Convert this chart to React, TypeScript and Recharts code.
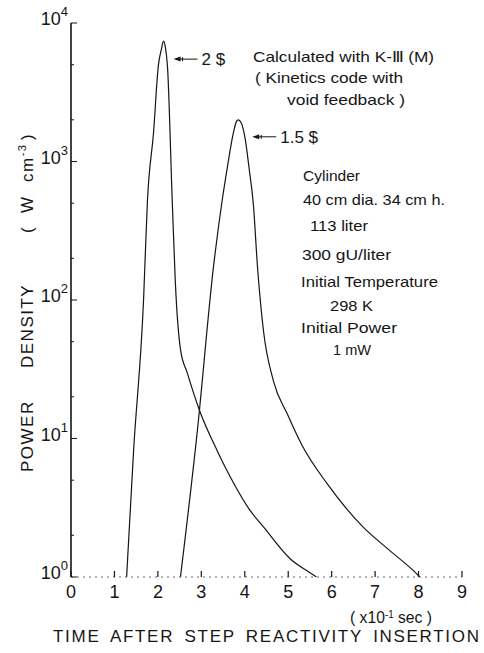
import { Line, LineChart, ReferenceDot, XAxis, YAxis } from 'recharts'

const FONT = "'Liberation Sans', Arial, Helvetica, sans-serif"
const INK = '#151515'

// time axis, x10^-1 sec
const xTicks = [0, 1, 2, 3, 4, 5, 6, 7, 8, 9]
// power density, W cm^-3 (log)
const yTicks = [1, 2, 5, 10, 20, 50, 100, 200, 500, 1000, 2000, 5000, 10000]

// 2 $ insertion
const time2 = [1.28, 1.44, 1.67, 1.76, 1.9, 2.01, 2.08, 2.13, 2.17, 2.22, 2.33, 2.4, 2.52, 2.68, 2.95, 3.37, 3.67, 4.13, 4.43, 5.05, 5.51, 5.65]
const power2 = [1, 8.1, 100, 525, 1620, 4900, 6450, 7400, 6750, 4900, 525, 138, 44, 29.5, 16.2, 8.1, 5.25, 3.0, 2.3, 1.35, 1.07, 1]

// 1.5 $ insertion
const time15 = [2.52, 2.91, 3.28, 3.48, 3.6, 3.74, 3.81, 3.85, 3.92, 4.01, 4.1, 4.2, 4.29, 4.43, 4.66, 4.98, 5.32, 5.9, 6.72, 7.34, 7.87, 8.03]
const power15 = [1, 11.5, 174, 525, 912, 1620, 1950, 2000, 1900, 1450, 890, 480, 178, 60, 26, 15, 8.9, 4.7, 2.3, 1.55, 1.12, 1]

const data2 = time2.map((t, i) => ({ t, p: power2[i] }))
const data15 = time15.map((t, i) => ({ t, p: power15[i] }))

const notes = [
  { text: 'Calculated with K-Ⅲ (M)', x: 253, y: 62, w: 181 },
  { text: '( Kinetics code with', x: 255, y: 83, w: 148 },
  { text: 'void feedback )', x: 287, y: 105, w: 118 },
  { text: 'Cylinder', x: 303, y: 181, w: 57 },
  { text: '40 cm dia.  34 cm h.', x: 303, y: 205, w: 142 },
  { text: '113 liter', x: 310, y: 231, w: 58 },
  { text: '300 gU/liter', x: 302, y: 260, w: 89 },
  { text: 'Initial Temperature', x: 301, y: 287, w: 137 },
  { text: '298 K', x: 330, y: 311, w: 43 },
  { text: 'Initial Power', x: 301, y: 333, w: 96 },
  { text: '1 mW', x: 333, y: 355, w: 38 },
]

const isMajor = (v: number) => Math.abs(Math.log10(v) - Math.round(Math.log10(v))) < 1e-9

function BottomTick({ x, y, payload }: any) {
  return (
    <g>
      <line x1={x} y1={y} x2={x} y2={y - 6} stroke={INK} strokeWidth={1.2} />
      <text x={x} y={y + 21} textAnchor="middle" fontSize={18} fontFamily={FONT} fill={INK}>
        {payload.value}
      </text>
    </g>
  )
}

function TopTick({ x, y }: any) {
  return <line x1={x} y1={y} x2={x} y2={y + 6} stroke={INK} strokeWidth={1.2} />
}

function LeftTick({ x, y, payload }: any) {
  const v = payload.value
  const major = isMajor(v)
  return (
    <g>
      <line x1={x} y1={y} x2={x + (major ? 6 : 3)} y2={y} stroke={INK} strokeWidth={1} />
      {major && (
        <text x={x - 3} y={y + 2} textAnchor="end" fontSize={18} fontFamily={FONT} fill={INK}>
          10
          <tspan dy={-9} fontSize={13}>
            {Math.round(Math.log10(v))}
          </tspan>
        </text>
      )}
    </g>
  )
}

function RightTick({ x, y, payload }: any) {
  const major = isMajor(payload.value)
  return <line x1={x} y1={y} x2={x - (major ? 8 : 4)} y2={y} stroke={INK} strokeWidth={1} />
}

function Pointer({ cx, cy, label, dx, dy }: any) {
  const tx = cx + dx
  const ty = cy + dy
  return (
    <g>
      <polygon points={`${tx},${ty} ${tx + 7},${ty - 2.5} ${tx + 7},${ty + 2.5}`} fill={INK} />
      <line x1={tx + 9} y1={ty - 2} x2={tx + 9} y2={ty + 2} stroke={INK} strokeWidth={1} />
      <line x1={tx + 6} y1={ty} x2={tx + 24} y2={ty} stroke={INK} strokeWidth={1} />
      <text x={tx + 28} y={ty + 6} fontSize={17} fontFamily={FONT} fill={INK}>
        {label}
      </text>
    </g>
  )
}

export default function App() {
  return (
    <div style={{ position: 'absolute', left: 0, top: 0, width: 484, height: 653, background: '#fff' }}>
      <LineChart width={484} height={653} data={data2} margin={{ top: 23, right: 22, bottom: 36, left: 11 }}>
        <XAxis
          xAxisId="b"
          dataKey="t"
          type="number"
          domain={[0, 9]}
          ticks={xTicks}
          interval={0}
          allowDataOverflow
          height={40}
          tickSize={0}
          tickMargin={0}
          tickLine={false}
          axisLine={{ stroke: '#666', strokeWidth: 1, strokeDasharray: '2 4' }}
          tick={<BottomTick />}
        />
        <XAxis
          xAxisId="t"
          orientation="top"
          type="number"
          domain={[0, 9]}
          ticks={xTicks}
          interval={0}
          allowDataOverflow
          height={0}
          tickSize={0}
          tickMargin={0}
          tickLine={false}
          axisLine={{ stroke: '#666', strokeWidth: 1, strokeDasharray: '3 5' }}
          tick={<TopTick />}
        />
        <YAxis
          yAxisId="l"
          scale="log"
          type="number"
          domain={[1, 10000]}
          ticks={yTicks}
          interval={0}
          allowDataOverflow
          width={60}
          tickSize={0}
          tickMargin={0}
          tickLine={false}
          axisLine={{ stroke: INK, strokeWidth: 1.6 }}
          tick={<LeftTick />}
        />
        <YAxis
          yAxisId="r"
          orientation="right"
          scale="log"
          type="number"
          domain={[1, 10000]}
          ticks={yTicks}
          interval={0}
          allowDataOverflow
          width={0}
          tickSize={0}
          tickMargin={0}
          tickLine={false}
          axisLine={{ stroke: INK, strokeWidth: 1.6 }}
          tick={<RightTick />}
        />
        <Line
          xAxisId="b"
          yAxisId="l"
          data={data2}
          dataKey="p"
          type="monotone"
          stroke={INK}
          strokeWidth={1.2}
          dot={false}
          isAnimationActive={false}
        />
        <Line
          xAxisId="b"
          yAxisId="l"
          data={data15}
          dataKey="p"
          type="monotone"
          stroke={INK}
          strokeWidth={1.2}
          dot={false}
          isAnimationActive={false}
        />
        <ReferenceDot
          xAxisId="b"
          yAxisId="l"
          x={2.13}
          y={7400}
          r={0}
          shape={(p: any) => <Pointer {...p} label="2 $" dx={10} dy={18} />}
        />
        <ReferenceDot
          xAxisId="b"
          yAxisId="l"
          x={3.85}
          y={2000}
          r={0}
          shape={(p: any) => <Pointer {...p} label="1.5 $" dx={14} dy={17} />}
        />
      </LineChart>
      <svg
        width={484}
        height={653}
        style={{ position: 'absolute', left: 0, top: 0, pointerEvents: 'none' }}
        fontFamily={FONT}
        fill={INK}
      >
        {notes.map((n) => (
          <text key={n.text} x={n.x} y={n.y} fontSize={15} textLength={n.w} lengthAdjust="spacingAndGlyphs">
            {n.text}
          </text>
        ))}
        <text x={350} y={623} fontSize={16} textLength={82} lengthAdjust="spacingAndGlyphs">
          ( x10
          <tspan dy={-5} fontSize={10}>
            -1
          </tspan>
          <tspan dy={5}> sec )</tspan>
        </text>
        <text x={53} y={642} fontSize={17} textLength={426} lengthAdjust="spacing" wordSpacing={4}>
          TIME AFTER STEP REACTIVITY INSERTION
        </text>
        <text transform="rotate(-90 33 472)" y={472} fontSize={17} letterSpacing={1.5}>
          <tspan x={33}>POWER</tspan>
          <tspan x={137}>DENSITY</tspan>
          <tspan x={272}>(</tspan>
          <tspan x={292}>W</tspan>
          <tspan x={323}>cm</tspan>
          <tspan dy={-7} fontSize={11}>
            -3
          </tspan>
          <tspan x={365} dy={7}>
            )
          </tspan>
        </text>
      </svg>
    </div>
  )
}
